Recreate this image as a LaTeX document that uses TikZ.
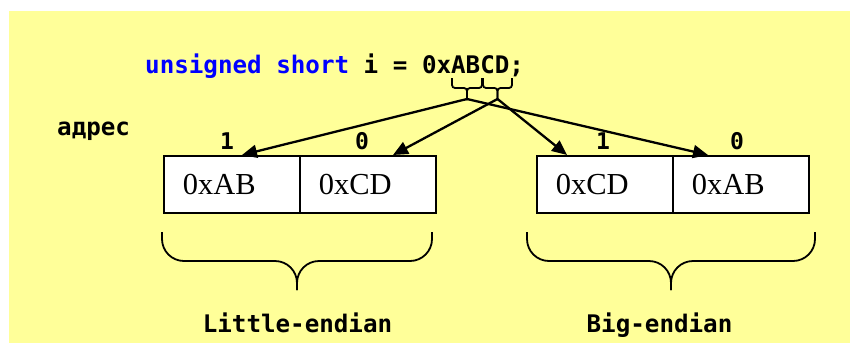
\documentclass[tikz,border=0pt]{standalone}
\usepackage{fontspec}
\setmainfont{Liberation Serif}
\setmonofont{DejaVu Sans Mono}
\usetikzlibrary{arrows.meta}
\definecolor{paper}{HTML}{FFFF99}
\definecolor{kw}{HTML}{0000FF}
\tikzset{
  code/.style={inner sep=0pt, font=\ttfamily\bfseries\fontsize{24.2}{29}\selectfont},
  idx/.style={inner sep=0pt, anchor=base, font=\ttfamily\bfseries\fontsize{23}{27}\selectfont},
  cell/.style={draw, line width=1.5pt, fill=white, anchor=north west,
    minimum height=57pt, inner ysep=0pt, inner xsep=19pt, text width=98pt,
    align=left, font=\fontsize{30.5}{34}\selectfont},
  smallbrace/.style={draw, line width=1.8pt, rounded corners=3pt},
  bigbrace/.style={draw, line width=1.8pt, rounded corners=22pt},
  ptr/.style={draw, line width=2.3pt, -{Triangle[length=15pt,width=13pt]}},
}
\begin{document}
\begin{tikzpicture}[x=1pt,y=-1pt]
\useasboundingbox (0,0) rectangle (850,343);
\fill[paper] (9,11) rectangle (850,343);

% declaration
\node[code, anchor=base west] (decl) at (145,73)
  {\textcolor{kw}{unsigned short} i = 0xABCD;};

% braces under the two bytes of the constant
\path[smallbrace] (452,78) |- (467,88) -- (467,100);
\path[smallbrace] (482,78) |- (467,88) -- (467,100);
\path[smallbrace] (483,78) |- (497.5,88) -- (497.5,100);
\path[smallbrace] (512,78) |- (497.5,88) -- (497.5,100);
\coordinate (ab) at (467,99);
\coordinate (cd) at (497.5,99);

% address label
\node[code, anchor=base west] (addr) at (57,135) {адрес};

% little-endian memory cells
\node[cell] (L1) at (163,155) {0xAB};
\node[cell] (L0) at (299,155) {0xCD};
% big-endian memory cells
\node[cell] (R1) at (536,155) {0xCD};
\node[cell] (R0) at (672,155) {0xAB};

% byte addresses
\node[idx] (l1) at (227,149) {1};
\node[idx] (l0) at (362,149) {0};
\node[idx] (r1) at (603,149) {1};
\node[idx] (r0) at (737,149) {0};

% arrow targets on the cell tops
\coordinate (L1t) at (242,155);
\coordinate (L0t) at (393,155);
\coordinate (R1t) at (567,155);
\coordinate (R0t) at (708,155);

\path[ptr] (ab) -- (L1t);
\path[ptr] (ab) -- (R0t);
\path[ptr] (cd) -- (L0t);
\path[ptr] (cd) -- (R1t);

% braces under the cells
\path[bigbrace] (162,232) |- (297,261) -- (297,290);
\path[bigbrace] (432,232) |- (297,261) -- (297,290);
\path[bigbrace] (527,232) |- (671,261) -- (671,290);
\path[bigbrace] (815,232) |- (671,261) -- (671,290);

% captions
\node[code, anchor=base] (little) at (297.5,332) {Little-endian};
\node[code, anchor=base] (big) at (659.5,332) {Big-endian};
\end{tikzpicture}
\end{document}
